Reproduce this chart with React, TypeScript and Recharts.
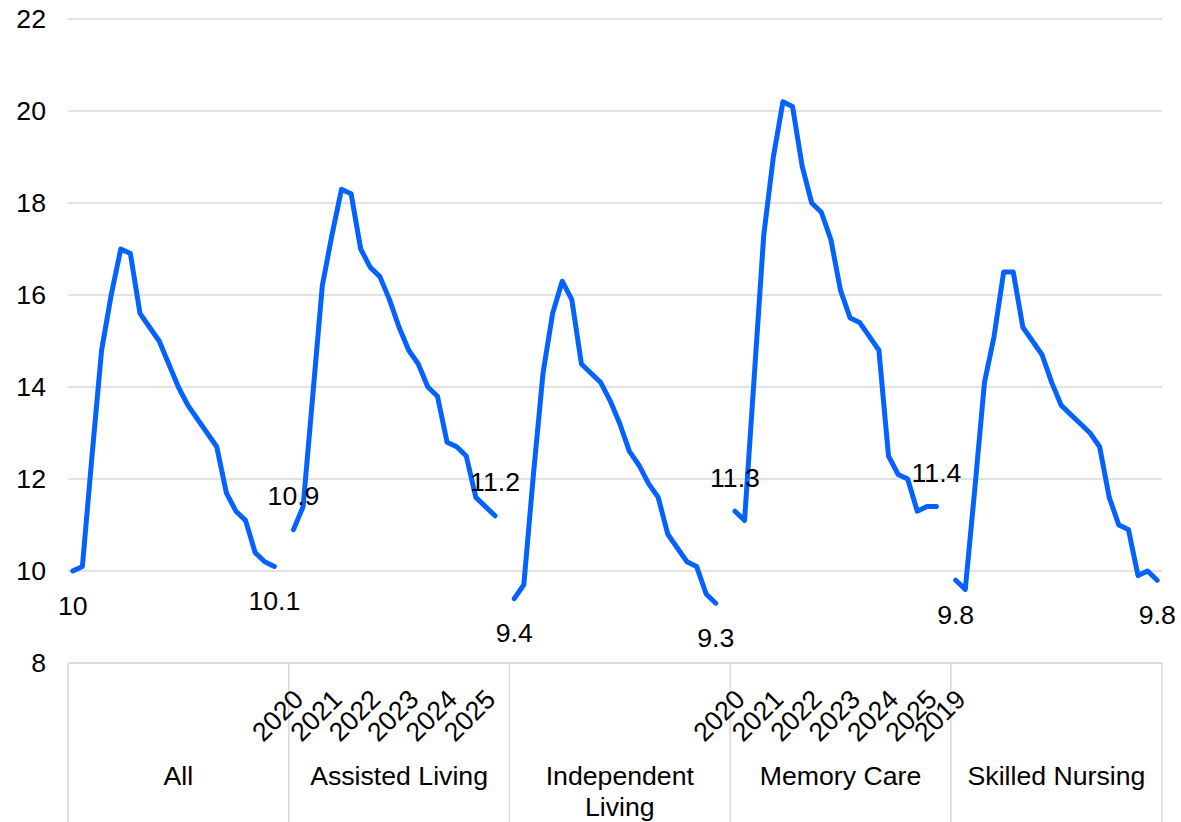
import { LineChart, Line, XAxis, YAxis, CartesianGrid, LabelList } from 'recharts';

const GROUPS = ['All', 'Assisted Living', 'Independent Living', 'Memory Care', 'Skilled Nursing'];
const GROUP_KEYS = ['all', 'assisted', 'independent', 'memory', 'skilled'];
// category slots per group on the axis (the last group has one fewer)
const GROUP_SLOTS = [23, 23, 23, 23, 22];

const allValues = [10.0, 10.1, 12.5, 14.8, 16.0, 17.0, 16.9, 15.6, 15.3, 15.0, 14.5, 14.0, 13.6, 13.3, 13.0, 12.7, 11.7, 11.3, 11.1, 10.4, 10.2, 10.1];
const assistedValues = [10.9, 11.4, 13.8, 16.2, 17.3, 18.3, 18.2, 17.0, 16.6, 16.4, 15.9, 15.3, 14.8, 14.5, 14.0, 13.8, 12.8, 12.7, 12.5, 11.6, 11.4, 11.2];
const independentValues = [9.4, 9.7, 12.1, 14.3, 15.6, 16.3, 15.9, 14.5, 14.3, 14.1, 13.7, 13.2, 12.6, 12.3, 11.9, 11.6, 10.8, 10.5, 10.2, 10.1, 9.5, 9.3];
const memoryValues = [11.3, 11.1, 14.2, 17.3, 19.0, 20.2, 20.1, 18.8, 18.0, 17.8, 17.2, 16.1, 15.5, 15.4, 15.1, 14.8, 12.5, 12.1, 12.0, 11.3, 11.4, 11.4];
const skilledValues = [9.8, 9.6, 11.8, 14.1, 15.1, 16.5, 16.5, 15.3, 15.0, 14.7, 14.1, 13.6, 13.4, 13.2, 13.0, 12.7, 11.6, 11.0, 10.9, 9.9, 10.0, 9.8];
const SERIES = [allValues, assistedValues, independentValues, memoryValues, skilledValues];

// the year labels that show on the category axis, and the slot each sits on
const YEAR_LABELS = ['2020', '2021', '2022', '2023', '2024', '2025', '2020', '2021', '2022', '2023', '2024', '2025', '2019'];
const YEAR_LABEL_SLOTS = [24, 28, 32, 36, 40, 44, 70, 74, 78, 82, 86, 90, 93];

const Y_TICKS = [8, 10, 12, 14, 16, 18, 20, 22];

// end labels above the line for these groups, below for the others
const LABEL_ABOVE = [false, true, false, true, false];

const LINE_COLOR = '#0462FE';
const GRID = '#d9d9d9';
const FONT = '"Liberation Sans", Arial, sans-serif';
const FS = 26.67;

const groupStart: number[] = [];
const rows: any[] = [];
GROUP_SLOTS.forEach((n, g) => {
  groupStart.push(rows.length);
  for (let k = 0; k < n; k++) {
    const row: any = { idx: rows.length };
    if (k < SERIES[g].length) row[GROUP_KEYS[g]] = SERIES[g][k];
    rows.push(row);
  }
});
const TOTAL = rows.length;

function XTick(props: any) {
  const { x, y, payload } = props;
  const idx = Number(payload.value);
  const half = payload.offset || 1094 / TOTAL / 2;
  const parts: any[] = [];

  const yl = YEAR_LABEL_SLOTS.indexOf(idx);
  if (yl >= 0) {
    parts.push(
      <text key="yr" transform={`translate(${x + 2},${y + 38}) rotate(-45)`} textAnchor="end" fontSize={FS} fill="#000">
        {YEAR_LABELS[yl]}
      </text>
    );
  }

  const g = groupStart.indexOf(idx);
  if (g >= 0) {
    const left = x - half;
    parts.push(<line key="sep" x1={left} x2={left} y1={y} y2={y + 160} stroke={GRID} strokeWidth={1.5} />);
    const cx = left + GROUP_SLOTS[g] * half;
    const words = GROUPS[g] === 'Independent Living' ? ['Independent', 'Living'] : [GROUPS[g]];
    words.forEach((w, i) => {
      parts.push(
        <text key={`g${i}`} x={cx} y={y + 122 + i * 31} textAnchor="middle" fontSize={FS} fill="#000">
          {w}
        </text>
      );
    });
  }
  if (idx === TOTAL - 1) {
    parts.push(<line key="end" x1={x + half} x2={x + half} y1={y} y2={y + 160} stroke={GRID} strokeWidth={1.5} />);
  }
  return <g>{parts}</g>;
}

function endLabel(g: number) {
  const first = groupStart[g];
  const last = first + SERIES[g].length - 1;
  return (props: any) => {
    const { x, y, value, index } = props;
    if (value == null || (index !== first && index !== last)) return null;
    const ty = LABEL_ABOVE[g] ? y - 24.5 : y + 43.5;
    return (
      <text x={x} y={ty} textAnchor="middle" fontSize={FS} fill="#000" fontFamily={FONT}>
        {value}
      </text>
    );
  };
}

export default function App() {
  return (
    <div style={{ position: 'absolute', left: 0, top: 0, fontFamily: FONT, background: '#fff' }}>
      <LineChart width={1181} height={822} data={rows} margin={{ top: 19, right: 19, left: 8, bottom: 0 }}>
        <CartesianGrid vertical={false} stroke={GRID} strokeWidth={1.5} />
        <XAxis
          dataKey="idx"
          type="category"
          scale="band"
          interval={0}
          height={159}
          tickSize={0}
          tickMargin={0}
          tickLine={false}
          axisLine={{ stroke: GRID, strokeWidth: 1.5 }}
          tick={<XTick />}
        />
        <YAxis
          domain={[8, 22]}
          ticks={Y_TICKS}
          width={60}
          tickSize={0}
          tickMargin={22}
          axisLine={false}
          tickLine={false}
          tick={{ fontSize: FS, fill: '#000', fontFamily: FONT }}
        />
        {GROUP_KEYS.map((key, g) => (
          <Line
            key={key}
            dataKey={key}
            type="linear"
            stroke={LINE_COLOR}
            strokeWidth={5}
            strokeLinejoin="round"
            strokeLinecap="round"
            dot={false}
            activeDot={false}
            isAnimationActive={false}
          >
            <LabelList dataKey={key} content={endLabel(g)} />
          </Line>
        ))}
      </LineChart>
    </div>
  );
}
